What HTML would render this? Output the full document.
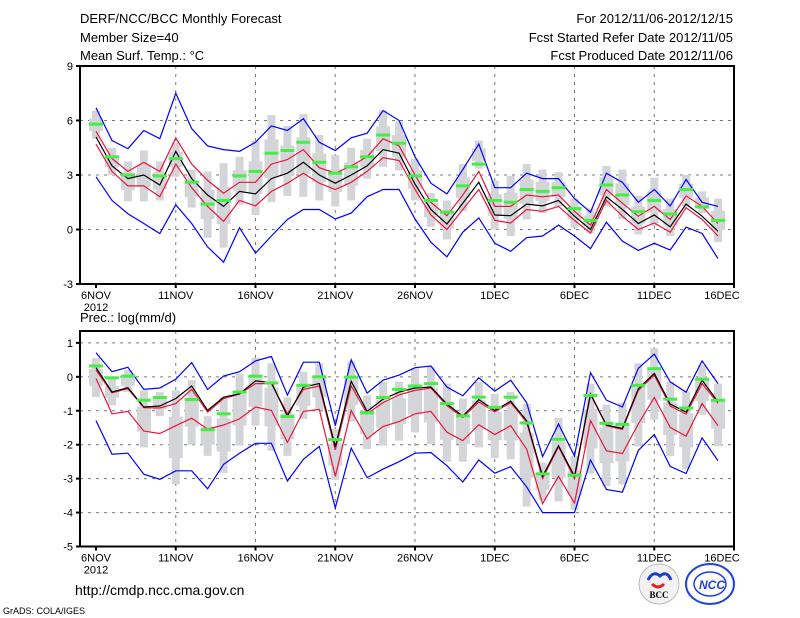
<!DOCTYPE html>
<html><head><meta charset="utf-8"><style>
html,body{margin:0;padding:0;background:#fff;width:800px;height:618px;overflow:hidden}
svg text{font-family:"Liberation Sans",sans-serif;fill:#000}
</style></head><body>
<svg id="chart" width="800" height="618" viewBox="0 0 800 618" xmlns="http://www.w3.org/2000/svg">
<text x="80" y="23" font-size="13">DERF/NCC/BCC Monthly Forecast</text>
<text x="80" y="42" font-size="13">Member Size=40</text>
<text x="80" y="60" font-size="13">Mean Surf. Temp.: °C</text>
<text x="733" y="23" font-size="13" text-anchor="end">For 2012/11/06-2012/12/15</text>
<text x="733" y="42" font-size="13" text-anchor="end">Fcst Started Refer Date 2012/11/05</text>
<text x="733" y="60" font-size="13" text-anchor="end">Fcst Produced Date 2012/11/06</text>
<text x="80" y="322" font-size="13">Prec.: log(mm/d)</text>
<text x="75" y="595" font-size="14">http://cmdp.ncc.cma.gov.cn</text>
<text x="3" y="614" font-size="9">GrADS: COLA/IGES</text>
<g>
<circle cx="659" cy="584" r="20" fill="#f2f2f2" stroke="#bbb"/>
<path d="M648 580 q5 -10 12 -4 q7 -6 11 4" stroke="#1a3fd0" stroke-width="3" fill="none"/>
<path d="M652 584 q6 6 12 0" stroke="#e02020" stroke-width="3" fill="none"/>
<text x="659" y="598" font-size="9" text-anchor="middle" font-weight="bold" style="font-family:'Liberation Serif',serif">BCC</text>
</g>
<g>
<ellipse cx="710" cy="584" rx="24" ry="20" fill="#fff" stroke="#2040e0" stroke-width="2"/>
<ellipse cx="710" cy="584" rx="16" ry="12" fill="none" stroke="#2040e0" stroke-width="1.5"/>
<text x="712" y="589" font-size="12" text-anchor="middle" font-style="italic" font-weight="bold" style="fill:#2040e0">NCC</text>
</g>
</svg>
<script>
const days = ['6NOV','11NOV','16NOV','21NOV','26NOV','1DEC','6DEC','11DEC','16DEC'];
const tTicks = [9,6,3,0,-3];
const pTicks = [1,0,-1,-2,-3,-4,-5];
const tMean = [5.1,3.5,2.8,3.0,2.45,4.3,2.8,1.9,1.27,2.1,1.96,2.8,3.1,3.7,3.0,2.55,3.0,3.5,4.4,4.2,2.5,1.1,0.3,1.45,2.6,0.8,0.76,1.4,1.3,1.6,0.73,0,1.8,1.1,0.33,0.8,0.15,1.4,0.73,-0.1];
const tRedHi = [5.4,3.9,3.2,3.7,3.2,5.05,3.6,2.7,2.0,2.6,2.6,3.6,3.85,4.4,3.4,3.1,3.5,4.0,5.0,4.6,3.0,1.5,0.76,1.9,3.2,1.27,1.27,1.9,1.8,1.9,1.0,0.24,2.2,1.45,0.73,1.27,0.55,1.85,1.27,0.33];
const tRedLo = [4.7,3.2,2.4,2.4,1.8,3.6,2.3,1.27,0.45,1.6,1.3,2.1,2.55,3.1,2.55,2.2,2.6,3.2,3.95,3.8,2.2,0.8,0,1.1,2.2,0.5,0.36,1.1,1.0,1.27,0.5,-0.2,1.6,0.73,0,0.36,-0.15,1.2,0.55,-0.36];
const tBlueHi = [6.7,4.9,4.45,5.45,5.0,7.5,5.55,4.6,4.4,4.3,4.8,5.7,5.45,6.1,4.8,4.35,5.05,5.3,6.55,6.0,4.0,2.55,1.96,3.3,4.7,2.3,2.3,3.1,2.8,2.8,1.7,0.95,3.1,2.6,1.5,2.2,1.3,2.75,1.5,1.27];
const tBlueLo = [2.9,1.6,0.87,0.33,-0.22,1.36,0.33,-0.96,-1.8,0.1,-1.3,-0.36,0.55,1.1,1.1,0.58,0.9,1.8,2.2,2.2,0.58,-0.7,-1.5,-0.15,0.64,-0.76,-1.2,-0.45,-0.36,0.24,-0.36,-1.05,0.4,-0.64,-1.15,-0.76,-1.13,0.13,-0.22,-1.6];
const tObs = [5.8,4.0,3.0,null,2.95,3.9,2.6,1.4,1.6,2.95,3.2,4.2,4.35,4.8,3.7,3.1,3.45,4.0,5.2,4.75,2.95,1.6,0.96,2.4,3.6,1.6,1.5,2.2,2.1,2.3,1.15,0.5,2.45,1.9,0.98,1.6,0.85,2.2,1.24,0.5];
const tBarHi = [6.55,4.5,3.75,4.35,3.75,4.8,3.3,3.2,3.65,4.0,4.9,6.3,5.7,6.35,5.2,4.1,4.5,5.0,6.55,5.95,3.9,2.0,1.6,3.6,4.9,2.7,2.95,3.6,3.3,3.15,1.7,1.15,3.5,3.3,1.85,2.85,1.7,3.0,2.1,1.7];
const tBarLo = [5.0,3.0,1.55,1.55,1.6,2.9,1.2,-0.45,-1.0,1.36,0.8,1.5,1.85,1.8,1.6,1.27,1.6,2.8,3.45,3.25,1.6,0.15,-0.55,1.0,3.35,0,-0.36,0.55,0.9,1.27,0.1,-0.2,1.27,0.58,-0.27,0.2,-0.36,1.27,0.9,-0.7];
const pMean = [0.27,-0.45,-0.32,-0.89,-0.86,-0.64,-0.27,-0.99,-0.6,-0.5,-0.12,-0.17,-1.16,-0.3,-0.2,-2.06,-0.13,-1.02,-0.66,-0.45,-0.33,-0.3,-0.8,-1.16,-0.67,-0.99,-0.72,-1.29,-2.93,-2.03,-2.93,-0.5,-1.42,-1.52,-0.35,0.1,-0.8,-1.04,-0.1,-0.74];
const pRedHi = [0.2,-0.47,-0.35,-0.91,-0.92,-0.79,-0.37,-1.04,-0.64,-0.51,-0.2,-0.2,-1.09,-0.37,-0.27,-2.15,-0.27,-1.09,-0.76,-0.53,-0.4,-0.33,-0.85,-1.2,-0.74,-1.03,-0.76,-1.33,-3.0,-2.06,-3.0,-0.52,-1.44,-1.55,-0.4,0.05,-0.86,-1.1,-0.2,-0.78];
const pRedLo = [-0.05,-1.09,-1.02,-1.6,-1.67,-1.44,-1.22,-1.54,-1.42,-1.24,-0.89,-0.99,-1.93,-1.02,-0.96,-2.93,-0.99,-1.83,-1.46,-1.32,-1.09,-1.02,-1.63,-1.88,-1.41,-1.7,-1.44,-2.13,-3.74,-2.93,-3.72,-1.29,-2.18,-2.26,-1.39,-0.61,-1.49,-1.75,-0.79,-1.44];
const pBlueHi = [0.71,0.15,0.28,-0.37,-0.33,-0.07,0.42,-0.37,0.02,0.15,0.47,0.6,-0.54,0.43,0.43,-1.44,0.5,-0.48,-0.1,0.05,0.27,0.32,-0.3,-0.56,-0.03,-0.42,-0.1,-0.76,-2.35,-1.39,-2.33,0.12,-0.69,-0.89,0.25,0.67,-0.15,-0.45,0.47,-0.2];
const pBlueLo = [-1.29,-2.28,-2.25,-2.87,-3.02,-2.77,-2.77,-3.3,-2.58,-2.25,-1.96,-1.96,-3.07,-2.43,-2.05,-3.86,-2.1,-2.97,-2.72,-2.5,-2.25,-2.23,-2.62,-3.1,-2.45,-2.84,-2.65,-3.24,-4.0,-4.0,-4.0,-2.45,-3.32,-3.4,-2.17,-1.7,-2.64,-2.85,-1.8,-2.47];
const pObs = [0.32,-0.03,0.02,-0.69,-0.61,null,-0.67,-1.56,-1.09,-0.45,0.02,-0.18,-1.17,-0.25,0.0,-1.85,-0.01,-1.06,-0.61,-0.37,-0.27,-0.2,-0.79,-1.15,-0.6,-0.9,-0.6,-1.36,-2.86,-1.84,-2.9,-0.55,-1.37,-1.4,-0.25,0.24,-0.66,-0.92,-0.07,-0.69];
const pBarHi = [0.55,-0.05,0.2,-0.4,-0.45,-0.4,-0.1,-1.16,-0.6,0.1,0.56,0.4,-0.6,0.15,0.4,-1.54,0.45,-0.55,-0.15,-0.15,0.25,0.3,-0.2,-0.64,-0.15,-0.5,-0.45,-0.8,-2.53,-1.21,-2.33,-0.2,-0.82,-0.76,0.4,0.84,-0.15,-0.43,0.35,-0.2];
const pBarLo = [-0.6,-0.84,-0.45,-2.08,-1.16,-3.17,-2.0,-2.33,-2.83,-2.03,-1.44,-2.18,-2.33,-1.24,-0.99,-3.04,-1.32,-2.13,-2.03,-1.88,-1.64,-1.98,-2.5,-2.5,-2.08,-2.4,-2.43,-3.82,-3.64,-3.67,-3.92,-2.85,-3.22,-3.17,-2.05,-1.26,-2.33,-2.72,-1.12,-2.05];

const NS = 'http://www.w3.org/2000/svg';
const svg = document.getElementById('chart');
function mk(tag, attrs, parent) {
  const e = document.createElementNS(NS, tag);
  for (const k in attrs) e.setAttribute(k, attrs[k]);
  (parent || svg).appendChild(e);
  return e;
}
const X0 = 80, X1 = 734;
function xDay(i) { return 96 + 15.95 * i; }

function panel(name, top, bottom, vmax, vmin, ticks, mean, rHi, rLo, bHi, bLo, obs, barHi, barLo) {
  const g = mk('g', {});
  
  
  const y = v => top + (vmax - v) / (vmax - vmin) * (bottom - top);
  // grid
  ticks.forEach(t => {
    if (t === vmax || t === vmin) return;
    const l = mk('line', {x1: X0, x2: X1, y1: y(t), y2: y(t), stroke: '#777', 'stroke-dasharray': '3,5', 'stroke-width': 1}, g);
    
    
  });
  days.forEach((d, k) => {
    const xx = xDay(k * 5);
    if (k > 0 && k < days.length - 1) {
      const l = mk('line', {x1: xx, x2: xx, y1: top, y2: bottom, stroke: '#777', 'stroke-dasharray': '3,5', 'stroke-width': 1}, g);
      
      
    }
    const tk = mk('line', {x1: xx, x2: xx, y1: bottom, y2: bottom + 4, stroke: '#000', 'stroke-width': 2}, g);
    
    
    const tx = mk('text', {x: Math.min(xx, 722), y: bottom + 15, 'font-size': 11, 'text-anchor': 'middle'}, g);
    tx.textContent = d;
    
    
  });
  const yr = mk('text', {x: 96, y: bottom + 27, 'font-size': 11, 'text-anchor': 'middle'}, g);
  yr.textContent = '2012';
  
  
  ticks.forEach(t => {
    const tk = mk('line', {x1: X0 - 4, x2: X0, y1: y(t), y2: y(t), stroke: '#000', 'stroke-width': 2}, g);
    
    
    const tx = mk('text', {x: X0 - 7, y: y(t) + 4, 'font-size': 11, 'text-anchor': 'end'}, g);
    tx.textContent = t;
    
    
  });
  // bars
  for (let i = 0; i < barHi.length; i++) {
    const hi = barHi[i], lo = barLo[i], xx = xDay(i);
    const b = mk('rect', {x: xx - 4, y: y(hi), width: 8, height: y(lo) - y(hi), fill: '#d4d5d9'}, g);
    
    
    const q1 = lo + 0.28 * (hi - lo), q3 = hi - 0.28 * (hi - lo);
    const w = mk('rect', {x: xx - 7, y: y(q3), width: 14, height: y(q1) - y(q3), fill: '#d4d5d9'}, g);
    
    
  }
  function line(arr, color, nm) {
    const pts = arr.map((v, i) => xDay(i).toFixed(1) + ',' + y(v).toFixed(1)).join(' ');
    const p = mk('polyline', {points: pts, fill: 'none', stroke: color, 'stroke-width': 1.2}, g);
    
    
  }
  line(bHi, '#0000ff', 'ensemble-max-line');
  line(bLo, '#0000ff', 'ensemble-min-line');
  line(rHi, '#e8183c', 'upper-spread-line');
  line(rLo, '#e8183c', 'lower-spread-line');
  line(mean, '#000000', 'ensemble-mean-line');
  obs.forEach((v, i) => {
    if (v === null) return;
    const m = mk('rect', {x: xDay(i) - 7, y: y(v) - 1.5, width: 14, height: 3, fill: '#44ee44'}, g);
    
    
  });
  const f = mk('rect', {x: X0, y: top, width: X1 - X0, height: bottom - top, fill: 'none', stroke: '#000', 'stroke-width': 2}, g);
  
  
}
panel('temperature-panel', 66, 284, 9, -3, tTicks, tMean, tRedHi, tRedLo, tBlueHi, tBlueLo, tObs, tBarHi, tBarLo);
panel('precipitation-panel', 331, 546.5, 1.35, -5, pTicks, pMean, pRedHi, pRedLo, pBlueHi, pBlueLo, pObs, pBarHi, pBarLo);
</script>
</body></html>
